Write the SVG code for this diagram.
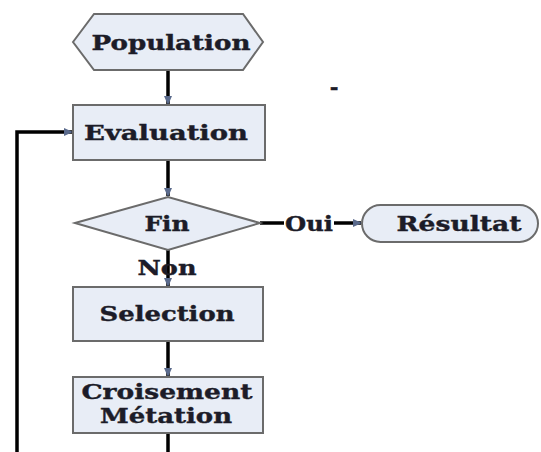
<svg xmlns="http://www.w3.org/2000/svg" width="541" height="452" viewBox="0 0 541 452">
<defs>
<style>
.shape{fill:#e8edf6;stroke:#6b6b6b;stroke-width:2}
.lbl{font-family:"DejaVu Serif","Liberation Serif",serif;font-weight:bold;font-size:21px;fill:#1c1c28;stroke:#1c1c28;stroke-width:0.4;text-anchor:middle;dominant-baseline:central}
.conn{fill:none;stroke:#000;stroke-width:3.5}
</style>
<marker id="ah" markerWidth="9" markerHeight="8" refX="8" refY="4" orient="auto" markerUnits="userSpaceOnUse" viewBox="0 0 9 8">
<path d="M0,0 L9,4 L0,8 z" fill="#5a6a8c"/>
</marker>
</defs>
<rect width="541" height="452" fill="#fff"/>
<g id="connectors">
<path class="conn" d="M168,70 V104" marker-end="url(#ah)"/>
<path class="conn" d="M168,160 V196" marker-end="url(#ah)"/>
<path class="conn" d="M260,223 H361" marker-end="url(#ah)" stroke-width="2.5"/>
<path class="conn" d="M168,250 V286" marker-end="url(#ah)"/>
<path class="conn" d="M168,341 V376" marker-end="url(#ah)"/>
<path class="conn" d="M168,433 V470 H17 V132 H72" marker-end="url(#ah)"/>
<rect x="284" y="213" width="50" height="20" fill="#fff"/>
<text class="lbl" x="309" y="223" textLength="48" lengthAdjust="spacingAndGlyphs">Oui</text>
<text class="lbl" x="167" y="267" textLength="59" lengthAdjust="spacingAndGlyphs">Non</text>
</g>
<g id="population">
<polygon class="shape" points="73,42 94,14 243,14 263,42 243,70 94,70"/>
<text class="lbl" x="171" y="42" textLength="159" lengthAdjust="spacingAndGlyphs">Population</text>
</g>
<g id="evaluation">
<rect class="shape" x="73" y="105" width="192" height="55"/>
<text class="lbl" x="166" y="132" textLength="164" lengthAdjust="spacingAndGlyphs">Evaluation</text>
</g>
<g id="fin">
<polygon class="shape" points="75,223 168,197 260,223 168,250"/>
<text class="lbl" x="167" y="223" textLength="45" lengthAdjust="spacingAndGlyphs">Fin</text>
</g>
<g id="resultat">
<rect class="shape" x="362" y="205" width="176" height="37" rx="18.5" ry="18.5"/>
<text class="lbl" x="459" y="223" textLength="125" lengthAdjust="spacingAndGlyphs">Résultat</text>
</g>
<g id="selection">
<rect class="shape" x="73" y="287" width="190" height="54"/>
<text class="lbl" x="167" y="313" textLength="135" lengthAdjust="spacingAndGlyphs">Selection</text>
</g>
<g id="croisement">
<rect class="shape" x="73" y="377" width="190" height="56"/>
<text class="lbl" x="167" y="391" textLength="171" lengthAdjust="spacingAndGlyphs">Croisement</text>
<text class="lbl" x="166" y="415" textLength="132" lengthAdjust="spacingAndGlyphs">Métation</text>
</g>
<text class="lbl" x="334" y="86" font-size="22">-</text>
</svg>
